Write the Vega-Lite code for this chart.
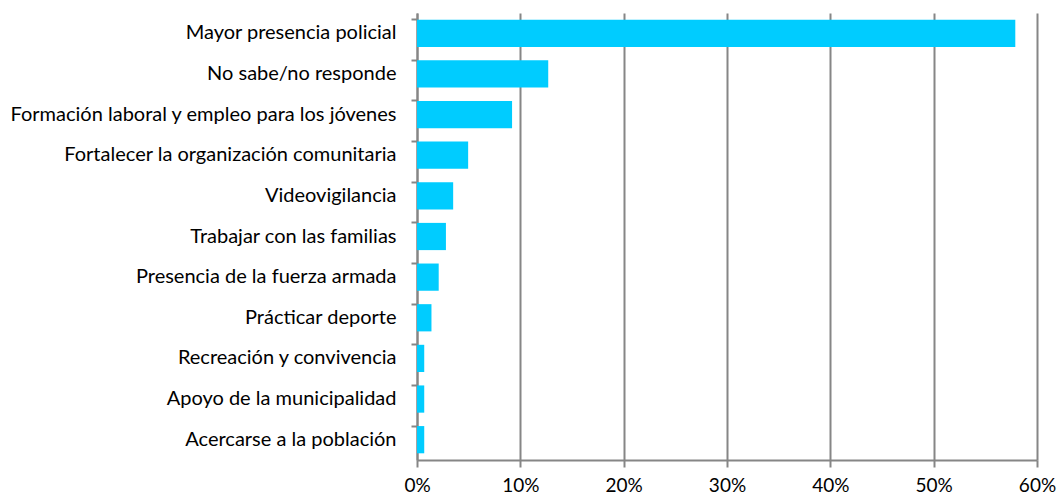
{
  "$schema": "https://vega.github.io/schema/vega-lite/v6.json",
  "autosize": {"type": "none"},
  "width": 620,
  "height": 447,
  "padding": {"left": 417, "top": 13, "right": 21, "bottom": 41},
  "background": "white",
  "config": {"view": {"stroke": null}, "font": "Lato"},
  "data": {"values": [
    {"cat": "Mayor presencia policial", "v": 0.579},
    {"cat": "No sabe/no responde", "v": 0.127},
    {"cat": "Formación laboral y empleo para los jóvenes", "v": 0.092},
    {"cat": "Fortalecer la organización comunitaria", "v": 0.0495},
    {"cat": "Videovigilancia", "v": 0.035},
    {"cat": "Trabajar con las familias", "v": 0.028},
    {"cat": "Presencia de la fuerza armada", "v": 0.021},
    {"cat": "Prácticar deporte", "v": 0.014},
    {"cat": "Recreación y convivencia", "v": 0.007},
    {"cat": "Apoyo de la municipalidad", "v": 0.007},
    {"cat": "Acercarse a la población", "v": 0.007}
  ]},
  "mark": {"type": "bar", "color": "#00CCFF"},
  "encoding": {
    "y": {"field": "cat", "type": "nominal", "sort": null, "title": null,
      "scale": {"paddingInner": 0.33, "paddingOuter": 0.165},
      "axis": {"labelFontSize": 20, "labelColor": "#000", "labelPadding": 15, "labelLimit": 500,
        "domainColor": "#868686", "domainWidth": 2, "tickColor": "#868686", "tickWidth": 2, "tickSize": 6,
        "bandPosition": 0, "grid": false}},
    "x": {"field": "v", "type": "quantitative", "title": null,
      "scale": {"domain": [0, 0.6], "nice": false},
      "axis": {"format": ".0%", "values": [0, 0.1, 0.2, 0.3, 0.4, 0.5, 0.6], "labelFontSize": 19, "labelColor": "#000",
        "labelPadding": 9, "domainColor": "#868686", "domainWidth": 2, "tickColor": "#868686", "tickWidth": 2, "tickSize": 7,
        "grid": true, "gridColor": "#868686", "gridWidth": 2, "labelFlush": false}}
  }
}
